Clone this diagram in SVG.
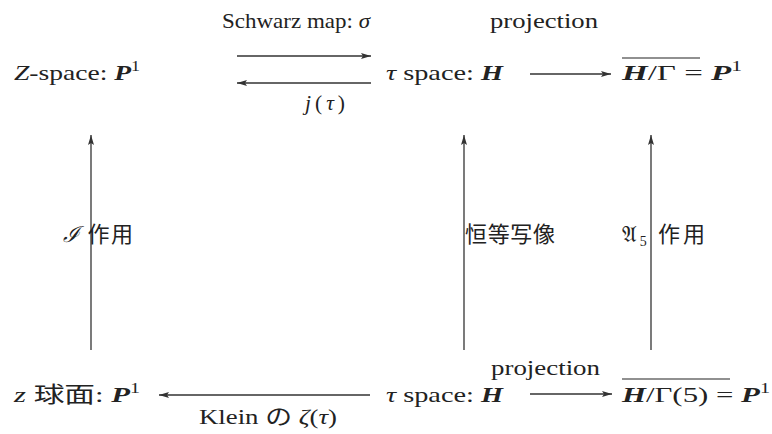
<svg xmlns="http://www.w3.org/2000/svg" width="772" height="434" viewBox="0 0 772 434">
<style>
text{font-family:"Liberation Serif","Noto Sans CJK JP",serif;font-size:21.5px;fill:#222}
.j{font-size:22px}
.i{font-style:italic}
.b{font-weight:bold;font-style:italic}
.sup{font-size:14px}
.c{stroke:#333;stroke-width:1.3;fill:none}
.ol{stroke:#222;stroke-width:1.2}
</style>
<defs>
<marker id="ah" viewBox="0 0 10 6" refX="10" refY="3" markerWidth="10" markerHeight="6" markerUnits="userSpaceOnUse" orient="auto">
<path d="M0,0 L10,3 L0,6 L2,3 Z" fill="#333"/>
</marker>
</defs>
<g id="connectors">
<line class="c" x1="237" y1="56" x2="371" y2="56" marker-end="url(#ah)"/>
<line class="c" x1="371" y1="83" x2="237" y2="83" marker-end="url(#ah)"/>
<line class="c" x1="530" y1="74" x2="611" y2="74" marker-end="url(#ah)"/>
<line class="c" x1="370" y1="395" x2="159" y2="395" marker-end="url(#ah)"/>
<line class="c" x1="530" y1="394" x2="612" y2="394" marker-end="url(#ah)"/>
<line class="c" x1="91" y1="350" x2="91" y2="135" marker-end="url(#ah)"/>
<line class="c" x1="464" y1="350" x2="464" y2="135" marker-end="url(#ah)"/>
<line class="c" x1="651" y1="350" x2="651" y2="135" marker-end="url(#ah)"/>
<text x="222" y="28" textLength="148" lengthAdjust="spacingAndGlyphs">Schwarz map: <tspan class="i">σ</tspan></text>
<text x="305" y="110" font-size="23" textLength="40" lengthAdjust="spacing"><tspan class="i">j</tspan>(<tspan class="i">τ</tspan>)</text>
<text x="490" y="28" textLength="108" lengthAdjust="spacingAndGlyphs">projection</text>
<text x="491" y="375" textLength="109" lengthAdjust="spacingAndGlyphs">projection</text>
<text x="199" y="424" textLength="138" lengthAdjust="spacingAndGlyphs">Klein の <tspan class="i">ζ</tspan>(<tspan class="i">τ</tspan>)</text>
<text class="j" x="63" y="242" textLength="70" lengthAdjust="spacing"><tspan class="i">ℐ</tspan> 作用</text>
<text class="j" x="465" y="242" textLength="90" lengthAdjust="spacing">恒等写像</text>
<text class="j" x="622" y="242" textLength="83" lengthAdjust="spacing">𝔄<tspan class="sup" dy="4">5</tspan><tspan dy="-4"> 作用</tspan></text>
</g>
<g id="n-zspace">
<text x="14" y="80" textLength="126" lengthAdjust="spacingAndGlyphs"><tspan class="i">Z</tspan>-space: <tspan class="b">P</tspan><tspan class="sup" dy="-9">1</tspan></text>
</g>
<g id="n-tau-top">
<text x="386" y="80" textLength="117" lengthAdjust="spacingAndGlyphs"><tspan class="i">τ</tspan> space: <tspan class="b">H</tspan></text>
</g>
<g id="n-quot-top">
<line class="ol" x1="622" y1="58" x2="700" y2="58"/>
<text x="622" y="80" textLength="120" lengthAdjust="spacingAndGlyphs"><tspan class="b">H</tspan>/Γ = <tspan class="b">P</tspan><tspan class="sup" dy="-9">1</tspan></text>
</g>
<g id="n-zsphere">
<text x="14" y="402" textLength="126" lengthAdjust="spacingAndGlyphs"><tspan class="i">z</tspan> 球面: <tspan class="b">P</tspan><tspan class="sup" dy="-9">1</tspan></text>
</g>
<g id="n-tau-bottom">
<text x="386" y="402" textLength="117" lengthAdjust="spacingAndGlyphs"><tspan class="i">τ</tspan> space: <tspan class="b">H</tspan></text>
</g>
<g id="n-quot-bottom">
<line class="ol" x1="622" y1="379" x2="730" y2="379"/>
<text x="622" y="402" textLength="148" lengthAdjust="spacingAndGlyphs"><tspan class="b">H</tspan>/Γ(5) = <tspan class="b">P</tspan><tspan class="sup" dy="-9">1</tspan></text>
</g>
</svg>
